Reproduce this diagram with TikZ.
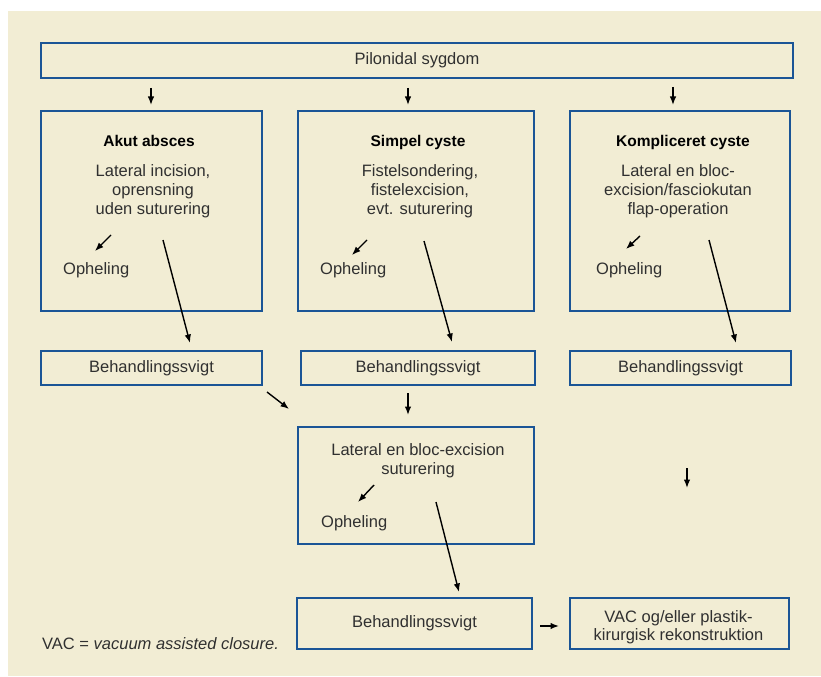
\documentclass[tikz,border=0pt]{standalone}
\usepackage{fontspec}
\setmainfont{Liberation Sans}
\usetikzlibrary{arrows.meta}

\definecolor{pagebg}{HTML}{F2EDD4}
\definecolor{boxblue}{HTML}{1B5596}
\definecolor{txtgray}{HTML}{303030}

\newcommand{\bodyfont}{\fontsize{16.5bp}{19bp}\selectfont}
\newcommand{\titlefont}{\fontsize{15.5bp}{19bp}\selectfont\bfseries}

\tikzset{
  box/.style = {draw = boxblue, line width = 1.3bp, inner sep = 0pt},
  body/.style = {align = center, inner sep = 0pt, anchor = north},
  heading/.style = {font = \titlefont, text = black, inner sep = 0pt, anchor = base},
  heal/.style = {inner sep = 0pt, anchor = base west},
  arr/.style = {line width = 1.4bp, -{Latex[length = 8.5bp, width = 6.5bp]}}
}

\begin{document}
\begin{tikzpicture}[x = 1bp, y = -1bp, font = \bodyfont, text = txtgray]
  \useasboundingbox (0, 0) rectangle (821, 677);
  \fill[pagebg] (8, 11) rectangle (821, 676);

  % boxes
  \node[box, minimum width = 752bp, minimum height = 35bp] (top) at (417, 60.5) {Pilonidal sygdom};

  \node[box, minimum width = 221bp, minimum height = 200bp] (akut) at (151.5, 211) {};
  \node[box, minimum width = 236bp, minimum height = 200bp] (simpel) at (416, 211) {};
  \node[box, minimum width = 220bp, minimum height = 200bp] (kompl) at (680, 211) {};

  \node[box, minimum width = 221bp, minimum height = 34bp] (svigtA) at (151.5, 368) {Behandlingssvigt};
  \node[box, minimum width = 234bp, minimum height = 34bp] (svigtB) at (418, 368) {Behandlingssvigt};
  \node[box, minimum width = 221bp, minimum height = 34bp] (svigtC) at (680.5, 368) {Behandlingssvigt};

  \node[box, minimum width = 236bp, minimum height = 117bp] (enbloc) at (416, 485.5) {};
  \node[box, minimum width = 235bp, minimum height = 51bp] (svigtD) at (414.5, 623.5) {Behandlingssvigt};
  \node[box, minimum width = 219bp, minimum height = 51bp] (vac) at (679.5, 623.5) {};

  % texts inside the boxes
  \node[heading] (akutT) at (149, 146.5) {Akut absces};
  \node[body] (akutB) at (153, 164) {Lateral incision,\\oprensning\\uden suturering};
  \node[heal] (akutH) at (63, 274) {Opheling};

  \node[heading] (simpelT) at (418, 146.5) {Simpel cyste};
  \node[body] (simpelB) at (420, 164) {Fistelsondering,\\fistelexcision,\\evt. suturering};
  \node[heal] (simpelH) at (320, 274) {Opheling};

  \node[heading] (komplT) at (683, 146.5) {Kompliceret cyste};
  \node[body] (komplB) at (678, 164) {Lateral en bloc-\\excision/fasciokutan\\flap-operation};
  \node[heal] (komplH) at (596, 274) {Opheling};

  \node[body] (enblocB) at (418, 443) {Lateral en bloc-excision\\suturering};
  \node[heal] (enblocH) at (321, 527) {Opheling};

  \node[body, font = \fontsize{16.5bp}{18bp}\selectfont] (vacB) at (678.5, 610) {VAC og/eller plastik-\\kirurgisk rekonstruktion};

  \node[heal] (note) at (42, 649) {VAC = \textit{vacuum assisted closure.}};

  % arrow ends
  \coordinate (p1) at (151, 88);  \coordinate (q1) at (151, 105);
  \coordinate (p2) at (408, 88);  \coordinate (q2) at (408, 105);
  \coordinate (p3) at (673, 87);  \coordinate (q3) at (673, 105);
  \coordinate (p4) at (111, 235); \coordinate (q4) at (95, 251);
  \coordinate (p5) at (163, 240); \coordinate (q5) at (190, 343);
  \coordinate (p6) at (367, 240); \coordinate (q6) at (352, 255);
  \coordinate (p7) at (424, 241); \coordinate (q7) at (452, 342);
  \coordinate (p8) at (640, 236); \coordinate (q8) at (626, 249);
  \coordinate (p9) at (709, 240); \coordinate (q9) at (736, 343);
  \coordinate (p10) at (267, 392); \coordinate (q10) at (289, 409);
  \coordinate (p11) at (408, 393); \coordinate (q11) at (408, 415);
  \coordinate (p12) at (374, 485); \coordinate (q12) at (358, 502);
  \coordinate (p13) at (436, 502); \coordinate (q13) at (459, 592);
  \coordinate (p14) at (687, 468); \coordinate (q14) at (687, 488);
  \coordinate (p15) at (540, 626); \coordinate (q15) at (559, 626);

  \foreach \i in {1, ..., 15}{
    \draw[arr] (p\i) -- (q\i);
  }
\end{tikzpicture}
\end{document}
